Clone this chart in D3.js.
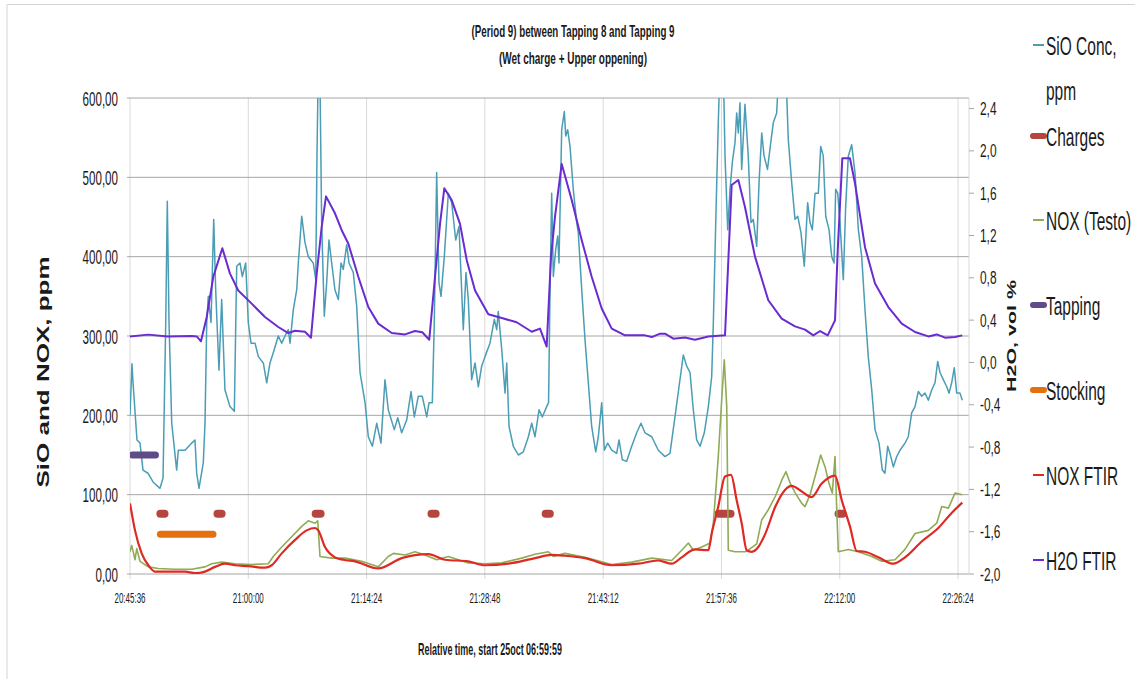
<!DOCTYPE html>
<html>
<head>
<meta charset="utf-8">
<script src="https://cdn.jsdelivr.net/npm/d3@7"></script>
<style>
body { margin: 0; background: #fff; }
text { font-family: "Liberation Sans", Arial, sans-serif; fill: #1a1a1a; }
</style>
</head>
<body>
<svg id="chart" width="1135" height="679"></svg>
<script>
// time of the first point, all series times are minutes after it
const startTime = [20, 45, 36];
const endMinute = 102.13;
const tickMinutes = [0, 14.4, 28.8, 43.2, 57.6, 72, 86.4, 100.8];
const leftTicks = [0, 100, 200, 300, 400, 500, 600];
const rightTicks = [-2.0, -1.6, -1.2, -0.8, -0.4, 0.0, 0.4, 0.8, 1.2, 1.6, 2.0, 2.4];

const titleLines = ["(Period 9) between Tapping 8 and Tapping 9", "(Wet charge + Upper oppening)"];
const xTitle = "Relative time, start 25oct 06:59:59";
const yTitle = "SiO and NOX, ppm";
const y2Title = "H2O, vol %";

// [minute, ppm]
const sioConc = [[0,200],[0.24,265],[0.37,241],[0.85,169],[1.22,165],[1.58,131],[2.19,127],[2.8,116],[3.65,108],[4.02,121],[4.35,317],[4.54,470],[4.75,317],[5.08,190],[5.68,131],[5.88,156],[6.7,156],[7.51,165],[7.91,169],[8.12,127],[8.4,108],[8.92,140],[9.13,190],[9.34,317],[9.53,350],[9.86,317],[10.19,447],[10.43,358],[10.83,257],[11.16,346],[11.56,232],[12.17,211],[12.7,205],[12.99,388],[13.39,392],[13.67,375],[14.08,392],[14.4,317],[14.73,291],[15.22,291],[15.62,274],[16.23,266],[16.64,241],[17.04,266],[17.44,279],[18.05,300],[18.47,291],[18.87,300],[19.27,308],[19.48,291],[19.88,333],[20.29,358],[20.49,392],[20.9,451],[21.3,418],[21.7,400],[22.31,392],[22.61,371],[22.76,527],[22.92,640],[23.13,620],[23.33,443],[23.65,325],[23.94,367],[24.22,421],[24.55,392],[24.95,358],[25.36,346],[25.69,392],[25.96,384],[26.38,415],[26.66,392],[27.18,380],[27.6,337],[28.0,254],[28.61,216],[29.01,173],[29.5,161],[30.03,190],[30.55,165],[31.04,245],[31.44,207],[32.17,182],[32.59,197],[33.07,178],[33.68,194],[34.21,230],[34.61,198],[35.09,224],[35.58,224],[36.12,198],[36.4,216],[36.8,216],[37.04,317],[37.33,506],[37.61,367],[37.86,350],[38.26,400],[38.75,480],[39.16,468],[39.65,421],[40.05,438],[40.57,308],[40.9,380],[41.18,346],[41.59,245],[42.0,266],[42.4,236],[42.81,262],[43.21,274],[43.82,291],[44.35,321],[44.64,308],[44.83,331],[45.25,283],[45.65,228],[45.86,266],[46.14,186],[46.66,161],[47.27,150],[47.88,154],[48.49,173],[48.9,190],[49.3,173],[49.79,207],[50.19,198],[50.72,211],[50.95,216],[51.13,358],[51.33,480],[51.53,375],[51.82,409],[52.06,426],[52.22,392],[52.55,560],[52.87,583],[53.04,552],[53.28,560],[53.56,539],[53.96,485],[54.38,443],[54.57,430],[54.99,358],[55.39,295],[55.79,241],[56.2,186],[56.69,154],[57.01,173],[57.42,216],[57.74,156],[58.15,165],[58.64,156],[59.24,152],[59.53,169],[59.93,144],[60.46,142],[61.07,161],[61.68,178],[62.2,190],[62.69,178],[63.51,173],[64.31,156],[65.12,148],[65.73,152],[66.34,198],[66.83,236],[67.35,276],[67.77,262],[68.17,254],[68.57,207],[68.98,169],[69.39,161],[69.91,178],[70.4,211],[70.81,249],[71.01,317],[71.3,443],[71.61,569],[71.82,640],[72.22,640],[72.43,527],[72.76,434],[73.04,485],[73.32,519],[73.65,544],[73.85,581],[74.05,556],[74.25,594],[74.46,510],[74.86,592],[75.26,527],[75.59,443],[75.87,447],[76.29,413],[76.57,493],[76.9,556],[77.18,527],[77.6,510],[78.0,544],[78.31,569],[78.72,581],[79.0,640],[79.82,640],[80.13,548],[80.55,493],[80.95,447],[81.28,451],[81.68,430],[82.08,388],[82.49,468],[82.78,443],[83.06,434],[83.39,480],[83.79,480],[84.08,539],[84.39,527],[84.69,451],[85.09,434],[85.42,400],[85.7,392],[85.9,485],[86.15,480],[86.43,443],[86.83,371],[87.12,464],[87.44,527],[87.85,541],[88.25,506],[88.66,434],[89.07,400],[89.47,333],[89.87,274],[90.29,232],[90.69,182],[91.18,165],[91.58,131],[91.9,127],[92.23,161],[92.51,152],[92.92,135],[93.33,148],[93.73,156],[94.34,165],[94.74,173],[95.15,203],[95.56,211],[95.96,230],[96.37,224],[96.77,228],[97.18,219],[97.59,232],[97.99,241],[98.32,268],[98.6,254],[99.0,245],[99.42,236],[99.7,228],[100.02,241],[100.34,260],[100.63,228],[101.03,228],[101.31,219]];

// [minute, ppm]
const noxTesto = [[0,28],[0.21,36],[0.61,18],[0.82,32],[1.22,16],[2.23,9],[3.44,7],[5.48,6],[7.51,6],[9.13,9],[9.95,13],[11.16,15],[12.78,13],[14.81,12],[16.83,13],[17.44,22],[18.47,34],[19.68,47],[20.9,60],[21.7,67],[22.52,64],[22.85,67],[23.13,22],[24.55,20],[26.18,20],[28.2,16],[30.22,9],[31.44,22],[32.07,26],[33.48,24],[34.69,28],[35.91,24],[37.33,18],[38.75,22],[41.18,14],[43.21,13],[45.25,14],[47.69,20],[49.3,25],[50.93,28],[51.53,22],[52.95,26],[55.39,21],[58.64,12],[61.07,15],[63.51,20],[65.94,17],[67.16,30],[67.97,39],[68.57,30],[69.59,34],[70.62,39],[71.01,64],[71.61,148],[72.1,232],[72.34,270],[72.64,211],[72.83,30],[73.65,28],[74.86,28],[75.26,30],[76.29,38],[76.89,68],[77.7,81],[78.56,98],[79.37,119],[79.85,129],[80.38,114],[80.99,102],[81.77,89],[82.17,85],[82.78,100],[83.39,123],[84.08,150],[84.61,135],[85.09,114],[85.49,102],[85.82,148],[86.02,85],[86.22,28],[87.44,31],[88.66,28],[90.29,22],[91.5,16],[93.12,18],[94.34,31],[95.56,51],[97.18,55],[98.2,64],[98.81,85],[99.62,83],[100.43,102],[101.31,100]];

// [minute, ppm]
const noxFtir = [[0,89],[0.61,55],[1.42,26],[2.23,11],[3.04,3],[4.66,3],[6.7,3],[7.91,1],[9.13,3],[10.35,9],[11.56,13],[12.78,11],[14.4,10],[16.43,8],[17.25,11],[18.47,26],[20.09,43],[21.51,55],[22.52,58],[22.92,55],[23.74,34],[24.95,21],[25.96,18],[27.39,16],[30.22,7],[33.07,20],[36.31,25],[38.34,18],[41.18,16],[43.21,11],[46.05,13],[49.3,20],[51.33,24],[52.95,23],[55.39,20],[58.64,11],[61.88,13],[64.31,17],[65.94,13],[67.16,21],[68.78,31],[70.4,30],[70.81,51],[71.61,85],[72.43,123],[73.16,125],[73.85,93],[74.46,64],[75.07,30],[75.68,28],[76.48,34],[77.3,50],[78.56,85],[79.73,106],[80.55,111],[81.77,104],[82.98,97],[84.2,114],[85.82,124],[86.64,93],[87.64,60],[88.46,29],[89.47,28],[91.09,21],[92.92,13],[94.34,21],[96.37,41],[98.39,58],[100.02,77],[101.31,90]];

// [minute, vol %] on the right axis
const h2oFtir = [[0,0.246],[2.23,0.263],[4.6,0.246],[7.51,0.25],[8.12,0.246],[8.64,0.2],[9.34,0.43],[10.14,0.81],[11.24,1.08],[12.17,0.84],[13.18,0.68],[14.81,0.556],[16.43,0.43],[18.05,0.335],[19.27,0.278],[20.09,0.3],[21.3,0.29],[22.03,0.234],[22.73,0.84],[23.33,1.28],[23.86,1.57],[24.95,1.41],[25.77,1.25],[26.57,1.125],[27.79,0.81],[29.01,0.524],[30.22,0.367],[31.86,0.278],[33.48,0.265],[34.69,0.297],[35.58,0.285],[36.43,0.215],[37.13,0.81],[37.74,1.31],[38.26,1.646],[39.16,1.535],[40.17,1.31],[40.99,0.967],[42.0,0.68],[43.62,0.455],[45.25,0.42],[47.07,0.38],[48.9,0.29],[49.91,0.32],[50.72,0.15],[51.25,1.0],[51.74,1.38],[52.55,1.877],[53.77,1.535],[54.99,1.156],[56.2,0.81],[57.42,0.51],[58.64,0.32],[60.26,0.256],[62.69,0.256],[63.51,0.24],[64.52,0.272],[65.12,0.272],[66.14,0.225],[67.56,0.235],[68.78,0.215],[70.4,0.246],[72.43,0.256],[73.24,1.678],[74.05,1.725],[74.86,1.47],[76.08,1.0],[77.7,0.588],[79.33,0.414],[80.95,0.341],[82.17,0.31],[83.18,0.256],[84.01,0.297],[84.93,0.256],[85.82,0.398],[86.15,1.06],[86.71,1.93],[87.64,1.93],[88.25,1.694],[89.47,1.09],[90.69,0.746],[92.31,0.524],[93.94,0.367],[95.56,0.288],[97.18,0.246],[98.2,0.265],[99.21,0.234],[100.43,0.24],[101.31,0.256]];

// event bars: [start minute, end minute], drawn at a fixed ppm level
const charges = [[3.7, 4.2], [10.65, 11.15], [22.6, 23.2], [36.7, 37.2], [50.6, 51.1], [71.65, 73.1], [86.25, 86.75]];
const chargesLevel = 76;
const tapping = [[0.3, 3.1]];
const tappingLevel = 150;
const stocking = [[3.7, 10.1]];
const stockingLevel = 50;

const legendNames = ["SiO Conc,", "Charges", "NOX (Testo)", "Tapping", "Stocking", "NOX FTIR", "H2O FTIR"];
const colors = {
	sio: "#4a9db5", charges: "#b5453f", testo: "#8fab55", tapping: "#5f4b87",
	stocking: "#e4700f", ftir: "#de2a22", h2o: "#6a2bd0"
};

var svg = d3.select('#chart');

var margin = {left: 130, top: 98, right: 969, bottom: 574};

var t0 = new Date(2000, 0, 1, startTime[0], startTime[1], startTime[2]);
var toDate = m => new Date(t0.getTime() + m * 60000);

var x = d3.scaleTime().domain([t0, toDate(endMinute)]).range([margin.left, margin.right]);
var y = d3.scaleLinear().domain([0, 600]).range([margin.bottom, margin.top]);
var y2 = d3.scaleLinear().domain([-2.0, 2.5]).range([margin.bottom, margin.top]);

function addText(g, str, px, py, size, k, anchor) {
	return g.append('text')
		.attr('transform', `translate(${px},${py}) scale(${k},1)`)
		.attr('font-size', size)
		.attr('text-anchor', anchor || 'start')
		.text(str);
}

// outer frame
svg.append('path')
	.attr('d', 'M7,1000 L7,4.5 L1140,4.5')
	.attr('fill', 'none')
	.attr('stroke', '#d4d4d4');

// GRID
var grid = svg.append('g');
grid.selectAll('.vgrid').data(tickMinutes).enter()
	.append('line')
	.attr('x1', d => x(toDate(d))).attr('x2', d => x(toDate(d)))
	.attr('y1', margin.top).attr('y2', margin.bottom + 5)
	.attr('stroke', '#d9d9d9');
grid.selectAll('.hgrid').data(leftTicks).enter()
	.append('line')
	.attr('x1', margin.left - 3).attr('x2', margin.right)
	.attr('y1', d => y(d)).attr('y2', d => y(d))
	.attr('stroke', '#a6a6a6');

// right axis line + ticks
grid.append('line')
	.attr('x1', margin.right).attr('x2', margin.right)
	.attr('y1', margin.top).attr('y2', margin.bottom)
	.attr('stroke', '#d9d9d9');
grid.selectAll('.rtick').data(rightTicks).enter()
	.append('line')
	.attr('x1', margin.right).attr('x2', margin.right + 5)
	.attr('y1', d => y2(d)).attr('y2', d => y2(d))
	.attr('stroke', '#a6a6a6');

// AXIS LABELS
var labels = svg.append('g');
leftTicks.forEach(d => {
	addText(labels, d.toFixed(2).replace('.', ','), 118, y(d) + 7.5, 20, 0.58, 'end');
});
rightTicks.forEach(d => {
	addText(labels, d.toFixed(1).replace('.', ','), 980, y2(d) + 6.5, 18, 0.66, 'start');
});
var fmt = d3.timeFormat('%H:%M:%S');
tickMinutes.forEach(d => {
	addText(labels, fmt(toDate(d)), x(toDate(d)), 603, 14, 0.57, 'middle');
});

// titles
titleLines.forEach((line, i) => {
	labels.append('text')
		.attr('x', 573).attr('y', i == 0 ? 36.5 : 64)
		.attr('font-size', 17)
		.attr('font-weight', 'bold')
		.attr('text-anchor', 'middle')
		.attr('textLength', i == 0 ? 203 : 148)
		.attr('lengthAdjust', 'spacingAndGlyphs')
		.text(line);
});
labels.append('text')
	.attr('x', 490).attr('y', 655)
	.attr('font-size', 17)
	.attr('font-weight', 'bold')
	.attr('text-anchor', 'middle')
	.attr('textLength', 144)
	.attr('lengthAdjust', 'spacingAndGlyphs')
	.text(xTitle);
labels.append('text')
	.attr('transform', 'translate(49,372) rotate(-90)')
	.attr('font-family', 'DejaVu Sans')
	.attr('font-weight', 'bold')
	.attr('font-size', 17)
	.attr('text-anchor', 'middle')
	.attr('textLength', 231)
	.attr('lengthAdjust', 'spacingAndGlyphs')
	.text(yTitle);
labels.append('text')
	.attr('transform', 'translate(1016,336) rotate(-90)')
	.attr('font-family', 'DejaVu Sans')
	.attr('font-weight', 'bold')
	.attr('font-size', 12)
	.attr('text-anchor', 'middle')
	.attr('textLength', 112)
	.attr('lengthAdjust', 'spacingAndGlyphs')
	.text(y2Title);

// SERIES
svg.append('clipPath').attr('id', 'plot')
	.append('rect')
	.attr('x', margin.left).attr('y', margin.top)
	.attr('width', margin.right - margin.left).attr('height', margin.bottom - margin.top);

var plot = svg.append('g').attr('clip-path', 'url(#plot)');

var line = d3.line().x(d => x(toDate(d[0]))).y(d => y(d[1]));
var smoothLine = d3.line().curve(d3.curveMonotoneX).x(d => x(toDate(d[0]))).y(d => y(d[1]));
var line2 = d3.line().x(d => x(toDate(d[0]))).y(d => y2(d[1]));

function drawBars(list, level, color, width) {
	plot.selectAll(null).data(list).enter()
		.append('line')
		.attr('x1', d => x(toDate(d[0]))).attr('x2', d => x(toDate(d[1])))
		.attr('y1', y(level)).attr('y2', y(level))
		.attr('stroke', color)
		.attr('stroke-width', width)
		.attr('stroke-linecap', 'round');
}

plot.append('path').datum(sioConc)
	.attr('d', line).attr('fill', 'none')
	.attr('stroke', colors.sio).attr('stroke-width', 1.5).attr('stroke-linejoin', 'round');
drawBars(charges, chargesLevel, colors.charges, 8);
plot.append('path').datum(noxTesto)
	.attr('d', line).attr('fill', 'none')
	.attr('stroke', colors.testo).attr('stroke-width', 1.6).attr('stroke-linejoin', 'round');
drawBars(tapping, tappingLevel, colors.tapping, 7);
drawBars(stocking, stockingLevel, colors.stocking, 7);
plot.append('path').datum(noxFtir)
	.attr('d', smoothLine).attr('fill', 'none')
	.attr('stroke', colors.ftir).attr('stroke-width', 2.2).attr('stroke-linejoin', 'round');
plot.append('path').datum(h2oFtir)
	.attr('d', line2).attr('fill', 'none')
	.attr('stroke', colors.h2o).attr('stroke-width', 2).attr('stroke-linejoin', 'round');

// LEGEND
var legendItems = [
	{name: legendNames[0], color: colors.sio, w: 2, y: 55},
	{name: legendNames[1], color: colors.charges, w: 6, y: 146},
	{name: legendNames[2], color: colors.testo, w: 2, y: 230},
	{name: legendNames[3], color: colors.tapping, w: 6, y: 315},
	{name: legendNames[4], color: colors.stocking, w: 6, y: 400},
	{name: legendNames[5], color: colors.ftir, w: 2, y: 485},
	{name: legendNames[6], color: colors.h2o, w: 2, y: 570}
];
var legend = svg.append('g');
legendItems.forEach(d => {
	legend.append('line')
		.attr('x1', 1033).attr('x2', 1044)
		.attr('y1', d.y - 10).attr('y2', d.y - 10)
		.attr('stroke', d.color)
		.attr('stroke-width', d.w)
		.attr('stroke-linecap', d.w > 2 ? 'round' : 'butt');
	addText(legend, d.name, 1046, d.y, 25, 0.62);
});
addText(legend, 'ppm', 1046, 100, 25, 0.62);
</script>
</body>
</html>
